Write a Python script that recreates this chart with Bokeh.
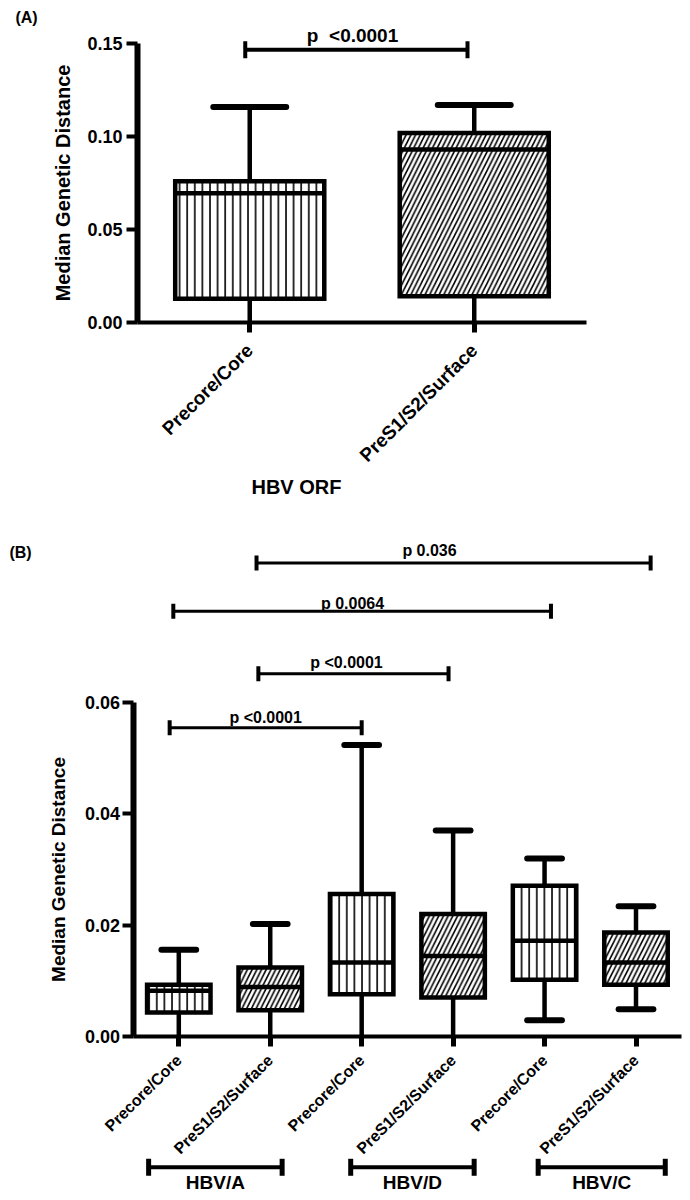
import math
import numpy as np
from bokeh.plotting import figure
from bokeh.models import (Range1d, FixedTicker, PrintfTickFormatter, ColumnDataSource,
                          Arrow, TeeHead, Label)
from bokeh.layouts import column
from bokeh.embed import file_html
from bokeh.resources import INLINE
from bokeh.core.properties import value

FONT = "Liberation Sans"

# ---------------- Panel A data ----------------
A_CATS = ["Precore/Core", "PreS1/S2/Surface"]
A_MAX = [0.116, 0.117]
A_Q3 = [0.076, 0.102]
A_MED = [0.0695, 0.093]
A_Q1 = [0.0126, 0.0140]
A_MIN = [0.0, 0.0]
A_HATCH = ["vertical_line", "right_diagonal_line"]
A_YTICKS = [0.0, 0.05, 0.10, 0.15]
A_SIG_LABEL = ["p\u00a0 <0.0001"]
A_SIG_X0 = [-0.02]
A_SIG_X1 = [0.97]
A_SIG_Y = [0.1468]
A_SIG_TX = [0.458]
A_SIG_TY = [0.1545]

# ---------------- Panel B data ----------------
B_CATS = ["Precore/Core", "PreS1/S2/Surface", "Precore/Core",
          "PreS1/S2/Surface", "Precore/Core", "PreS1/S2/Surface"]
B_MAX = [0.0156, 0.0202, 0.0524, 0.0370, 0.0320, 0.0234]
B_Q3 = [0.0093, 0.0124, 0.0256, 0.0220, 0.0271, 0.0187]
B_MED = [0.0082, 0.0089, 0.0133, 0.01445, 0.0172, 0.0133]
B_Q1 = [0.0043, 0.0047, 0.0076, 0.0070, 0.0102, 0.0093]
B_MIN = [0.0, 0.0, 0.0, 0.0, 0.0029, 0.0049]
B_HATCH = ["vertical_line", "right_diagonal_line"] * 3
B_YTICKS = [0.0, 0.02, 0.04, 0.06]
B_SIG_LABEL = ["p <0.0001", "p <0.0001", "p 0.0064", "p 0.036"]
B_SIG_X0 = [-0.10, 0.87, -0.06, 0.85]
B_SIG_X1 = [2.00, 2.95, 4.07, 5.16]
B_SIG_Y = [0.0555, 0.0652, 0.0764, 0.0851]
B_SIG_TX = [0.95, 1.834, 1.90, 2.742]
B_SIG_TY = [0.0573, 0.0672, 0.0779, 0.0873]
B_GROUPS = ["HBV/A", "HBV/D", "HBV/C"]
B_GROUP_X0 = [-0.33, 1.88, 3.93]
B_GROUP_X1 = [1.13, 3.23, 5.32]
B_GROUP_Y = [-0.0235, -0.0235, -0.0235]
B_GROUP_TY = [-0.0262, -0.0262, -0.0262]

HATCH_SCALE = {"vertical_line": 7.6, "right_diagonal_line": 9.4}


def make_panel(cats, mx, q3, med, q1, mn, hatch, yticks, ylim_top,
               xr, yr, width, height, box_w, cap_w, tick_font, cat_font,
               ylab_font, lw, axis_w, ylab_standoff, lab_standoff, cat_standoff):
    p = figure(width=width, height=height, x_range=Range1d(*xr), y_range=Range1d(*yr),
               output_backend="svg", toolbar_location=None, min_border=0,
               outline_line_color=None, background_fill_color="white",
               border_fill_color="white")
    p.grid.visible = False
    n = len(cats)
    xs = np.arange(n, dtype=float)
    src = ColumnDataSource(dict(
        x=xs, q1=q1, q3=q3, med=med, mx=mx, mn=mn, hatch=hatch,
        hs=[HATCH_SCALE[h] for h in hatch],
        bx0=xs - box_w / 2, bx1=xs + box_w / 2,
        cx0=xs - cap_w / 2, cx1=xs + cap_w / 2))
    low = [i for i in range(n) if mn[i] > 0]
    low_src = ColumnDataSource(dict(
        y=[mn[i] for i in low],
        cx0=[xs[i] - cap_w / 2 for i in low],
        cx1=[xs[i] + cap_w / 2 for i in low]))
    # whiskers
    p.segment(x0="x", y0="q3", x1="x", y1="mx", source=src, line_color="black", line_width=lw)
    p.segment(x0="x", y0="q1", x1="x", y1="mn", source=src, line_color="black", line_width=lw)
    p.segment(x0="cx0", y0="mx", x1="cx1", y1="mx", source=src, line_color="black",
              line_width=lw + 1.5, line_cap="round")
    p.segment(x0="cx0", y0="y", x1="cx1", y1="y", source=low_src, line_color="black",
              line_width=lw + 1.5, line_cap="round")
    # boxes
    p.vbar(x="x", width=box_w, top="q3", bottom="q1", source=src, fill_color="white",
           line_color="black", line_width=lw, line_join="miter",
           hatch_pattern="hatch", hatch_scale="hs", hatch_weight=1.6, hatch_color="black")
    # medians
    p.segment(x0="bx0", y0="med", x1="bx1", y1="med", source=src, line_color="black",
              line_width=lw)

    xa = p.xaxis[0]
    xa.fixed_location = 0
    xa.bounds = (-0.5, n - 0.5)
    xa.ticker = FixedTicker(ticks=list(xs))
    xa.major_label_overrides = {float(i): c for i, c in enumerate(cats)}
    xa.major_label_orientation = math.pi / 4
    xa.major_label_text_font = FONT
    xa.major_label_text_font_style = "bold"
    xa.major_label_text_font_size = cat_font
    xa.major_label_text_color = "black"
    xa.major_label_standoff = cat_standoff
    xa.axis_line_width = axis_w - 1
    xa.axis_line_color = "black"
    xa.major_tick_line_width = axis_w
    xa.major_tick_line_color = "black"
    xa.major_tick_out = 10
    xa.major_tick_in = 0
    xa.minor_tick_line_color = None

    ya = p.yaxis[0]
    ya.fixed_location = -0.5
    ya.bounds = (0, ylim_top)
    ya.ticker = FixedTicker(ticks=yticks)
    ya.formatter = PrintfTickFormatter(format="%.2f")
    ya.major_label_text_font = FONT
    ya.major_label_text_font_style = "bold"
    ya.major_label_text_font_size = tick_font
    ya.major_label_text_color = "black"
    ya.major_label_standoff = lab_standoff
    ya.axis_line_width = axis_w + 1
    ya.axis_line_color = "black"
    ya.major_tick_line_width = axis_w - 1
    ya.major_tick_line_color = "black"
    ya.major_tick_out = 11
    ya.major_tick_in = 0
    ya.minor_tick_line_color = None
    ya.axis_label = "Median Genetic Distance"
    ya.axis_label_text_font = FONT
    ya.axis_label_text_font_style = "bold"
    ya.axis_label_text_font_size = ylab_font
    ya.axis_label_text_color = "black"
    ya.axis_label_standoff = ylab_standoff
    return p


# ---------------- Panel A ----------------
pA = make_panel(A_CATS, A_MAX, A_Q3, A_MED, A_Q1, A_MIN, A_HATCH, A_YTICKS, 0.15,
                xr=(-1.1102, 1.9633), yr=(-0.11548, 0.17335), width=690, height=536,
                box_w=0.664, cap_w=0.325, tick_font="18px", cat_font="19px",
                ylab_font="20px", lw=4.5, axis_w=5, ylab_standoff=10, lab_standoff=4,
                cat_standoff=15)
sigA = ColumnDataSource(dict(x0=A_SIG_X0, x1=A_SIG_X1, y=A_SIG_Y))
pA.add_layout(Arrow(x_start="x0", y_start="y", x_end="x1", y_end="y", source=sigA,
                    line_width=4, line_color="black",
                    start=TeeHead(size=17, line_width=4, line_color="black"),
                    end=TeeHead(size=17, line_width=4, line_color="black")))
pA.text(x=A_SIG_TX, y=A_SIG_TY, text=A_SIG_LABEL, text_font=value(FONT),
        text_font_style="bold", text_font_size="19px", text_align="center",
        text_baseline="middle", text_color="black")
pA.add_layout(Label(x=-0.994, y=0.1642, text="(A)", text_font=FONT, text_font_style="bold",
                    text_font_size="16px", text_align="center", text_baseline="middle",
                    text_color="black"))
pA.add_layout(Label(x=0.208, y=-0.0889, text="HBV ORF", text_font=FONT,
                    text_font_style="bold", text_font_size="20px", text_align="center",
                    text_baseline="middle", text_color="black"))

# ---------------- Panel B ----------------
pB = make_panel(B_CATS, B_MAX, B_Q3, B_MED, B_Q1, B_MIN, B_HATCH, B_YTICKS, 0.06,
                xr=(-1.9499, 5.5960), yr=(-0.02911, 0.08985), width=690, height=662,
                box_w=0.694, cap_w=0.38, tick_font="18px", cat_font="16px",
                ylab_font="19px", lw=4.5, axis_w=5, ylab_standoff=13, lab_standoff=2,
                cat_standoff=11)
sigB = ColumnDataSource(dict(x0=B_SIG_X0, x1=B_SIG_X1, y=B_SIG_Y))
pB.add_layout(Arrow(x_start="x0", y_start="y", x_end="x1", y_end="y", source=sigB,
                    line_width=3, line_color="black",
                    start=TeeHead(size=15, line_width=4, line_color="black"),
                    end=TeeHead(size=15, line_width=4, line_color="black")))
pB.text(x=B_SIG_TX, y=B_SIG_TY, text=B_SIG_LABEL, text_font=value(FONT),
        text_font_style="bold", text_font_size="16px", text_align="center",
        text_baseline="middle", text_color="black")
grp = ColumnDataSource(dict(x0=B_GROUP_X0, x1=B_GROUP_X1, y=B_GROUP_Y, ty=B_GROUP_TY,
                            tx=[(a + b) / 2 for a, b in zip(B_GROUP_X0, B_GROUP_X1)],
                            name=B_GROUPS))
pB.add_layout(Arrow(x_start="x0", y_start="y", x_end="x1", y_end="y", source=grp,
                    line_width=4, line_color="black",
                    start=TeeHead(size=17, line_width=5, line_color="black"),
                    end=TeeHead(size=17, line_width=5, line_color="black")))
pB.text(x="tx", y="ty", text="name", source=grp, text_font=value(FONT),
        text_font_style="bold", text_font_size="19px", text_align="center",
        text_baseline="middle", text_color="black")
pB.add_layout(Label(x=-1.731, y=0.0869, text="(B)", text_font=FONT, text_font_style="bold",
                    text_font_size="16px", text_align="center", text_baseline="middle",
                    text_color="black"))

layout = column(pA, pB, spacing=0)
open("out.html", "w").write(file_html(layout, INLINE))
